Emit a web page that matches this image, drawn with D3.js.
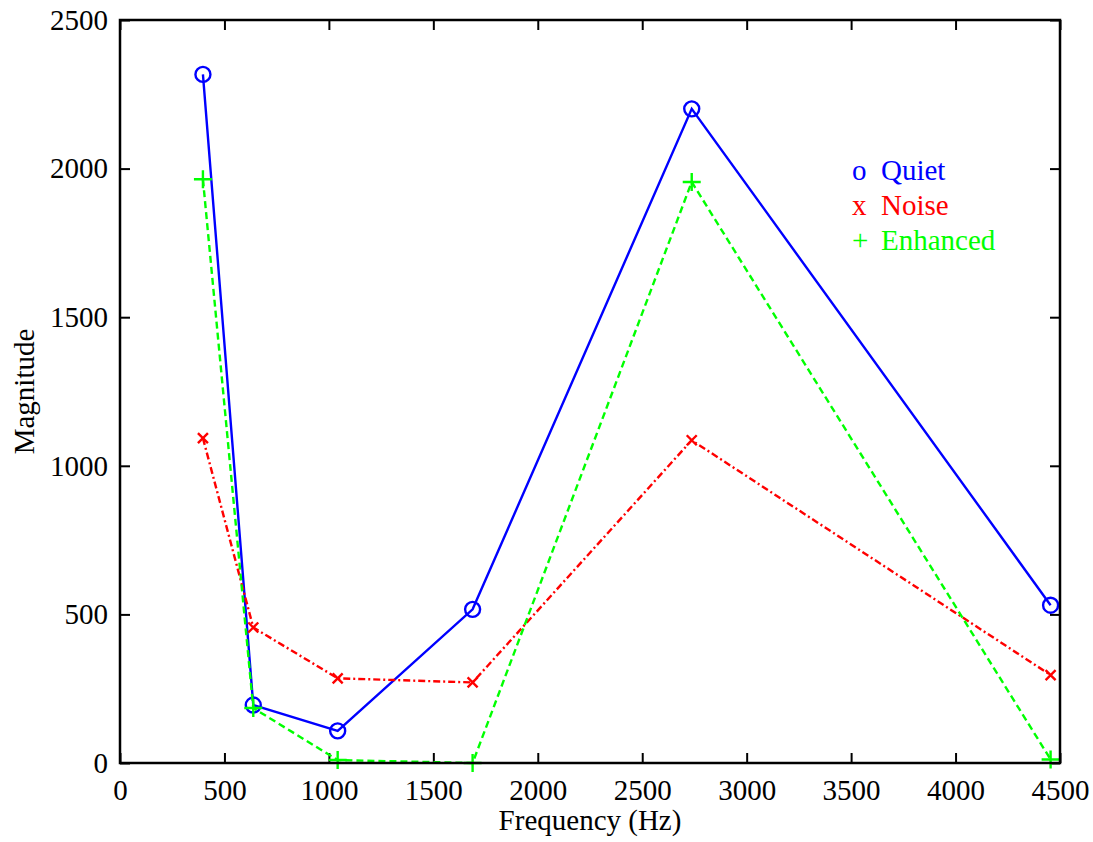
<!DOCTYPE html>
<html>
<head>
<meta charset="utf-8">
<script src="https://cdn.jsdelivr.net/npm/d3@7"></script>
<style>
  html, body { margin: 0; padding: 0; background: #fff; }
  svg { display: block; }
  text { font-family: "Liberation Serif", "Times New Roman", serif; }
</style>
</head>
<body>
<svg id="chart" width="1093" height="842"></svg>
<script>
// Formant peak frequencies (Hz) and magnitudes for each condition
const quietFreq = [397, 638, 1042, 1688, 2737, 4455];
const quietMag = [2317, 195, 108, 517, 2201, 531];

const noiseFreq = [397, 638, 1042, 1688, 2737, 4455];
const noiseMag = [1093, 456, 285, 271, 1086, 296];

const enhancedFreq = [397, 638, 1042, 1688, 2737, 4455];
const enhancedMag = [1964, 185, 10, 0, 1955, 12];

const xTicks = [0, 500, 1000, 1500, 2000, 2500, 3000, 3500, 4000, 4500];
const yTicks = [0, 500, 1000, 1500, 2000, 2500];

const legendLabels = ["Quiet", "Noise", "Enhanced"];
const legendSymbols = ["o", "x", "+"];

const svg = d3.select("#chart");
const plotLeft = 120, plotRight = 1060, plotTop = 20, plotBottom = 763;

const x = d3.scaleLinear().domain([0, 4500]).range([plotLeft, plotRight]);
const y = d3.scaleLinear().domain([0, 2500]).range([plotBottom, plotTop]);

const series = [
  { freq: quietFreq, mag: quietMag, color: "#0000ff", dash: null, marker: "circle" },
  { freq: noiseFreq, mag: noiseMag, color: "#ff0000", dash: "7,3,2,3", marker: "x" },
  { freq: enhancedFreq, mag: enhancedMag, color: "#00ff00", dash: "7,4", marker: "plus" }
];

// Axes: ticks pointing inward on all four sides
const fontSize = 29;
const fmt = d3.format("d");
const axisBottom = d3.axisBottom(x).tickValues(xTicks).tickFormat(fmt).tickSizeInner(-10).tickSizeOuter(0).tickPadding(16);
const axisTop = d3.axisTop(x).tickValues(xTicks).tickSizeInner(-10).tickSizeOuter(0).tickFormat("");
const axisLeft = d3.axisLeft(y).tickValues(yTicks).tickFormat(fmt).tickSizeInner(-10).tickSizeOuter(0).tickPadding(12);
const axisRight = d3.axisRight(y).tickValues(yTicks).tickSizeInner(-10).tickSizeOuter(0).tickFormat("");

function styleAxis(g) {
  g.selectAll("path.domain").remove();
  g.selectAll(".tick line").attr("stroke", "#000").attr("stroke-width", 2);
  g.selectAll(".tick text").attr("fill", "#000").style("font-size", fontSize + "px")
    .style("font-family", '"Liberation Serif", "Times New Roman", serif');
}

svg.append("g").attr("transform", `translate(0,${plotBottom})`).call(axisBottom).call(styleAxis);
svg.append("g").attr("transform", `translate(0,${plotTop})`).call(axisTop).call(styleAxis);
svg.append("g").attr("transform", `translate(${plotLeft},0)`).call(axisLeft).call(styleAxis);
svg.append("g").attr("transform", `translate(${plotRight},0)`).call(axisRight).call(styleAxis);

// Lines and markers
const line = d3.line().x(d => x(d[0])).y(d => y(d[1]));
series.forEach(s => {
  const pts = s.freq.map((f, i) => [f, s.mag[i]]);
  svg.append("path")
    .attr("d", line(pts))
    .attr("fill", "none")
    .attr("stroke", s.color)
    .attr("stroke-width", 2.4)
    .attr("stroke-dasharray", s.dash);

  const g = svg.append("g");
  pts.forEach(p => {
    const cx = x(p[0]), cy = y(p[1]);
    if (s.marker === "circle") {
      g.append("circle").attr("cx", cx).attr("cy", cy).attr("r", 7.5)
        .attr("fill", "none").attr("stroke", s.color).attr("stroke-width", 2.4);
    } else if (s.marker === "x") {
      const r = 5;
      g.append("path").attr("d", `M${cx - r},${cy - r}L${cx + r},${cy + r}M${cx - r},${cy + r}L${cx + r},${cy - r}`)
        .attr("stroke", s.color).attr("stroke-width", 2.4);
    } else {
      const r = 9;
      g.append("path").attr("d", `M${cx - r},${cy}L${cx + r},${cy}M${cx},${cy - r}L${cx},${cy + r}`)
        .attr("stroke", s.color).attr("stroke-width", 2.4);
    }
  });
});

// Frame
svg.append("rect").attr("x", plotLeft).attr("y", plotTop)
  .attr("width", plotRight - plotLeft).attr("height", plotBottom - plotTop)
  .attr("fill", "none").attr("stroke", "#000").attr("stroke-width", 2.5);

// Axis titles
svg.append("text").attr("x", (plotLeft + plotRight) / 2).attr("y", 830).attr("text-anchor", "middle")
  .style("font-size", fontSize + "px").text("Frequency (Hz)");
svg.append("text").attr("transform", `translate(34,${(plotTop + plotBottom) / 2}) rotate(-90)`)
  .attr("text-anchor", "middle").style("font-size", fontSize + "px").text("Magnitude");

// Legend
const legend = svg.append("g");
series.forEach((s, i) => {
  const by = 180 + i * 35;
  legend.append("text").attr("x", 852).attr("y", by).attr("fill", s.color)
    .style("font-size", fontSize + "px").text(legendSymbols[i]);
  legend.append("text").attr("x", 881).attr("y", by).attr("fill", s.color)
    .style("font-size", fontSize + "px").text(legendLabels[i]);
});
</script>
</body>
</html>
